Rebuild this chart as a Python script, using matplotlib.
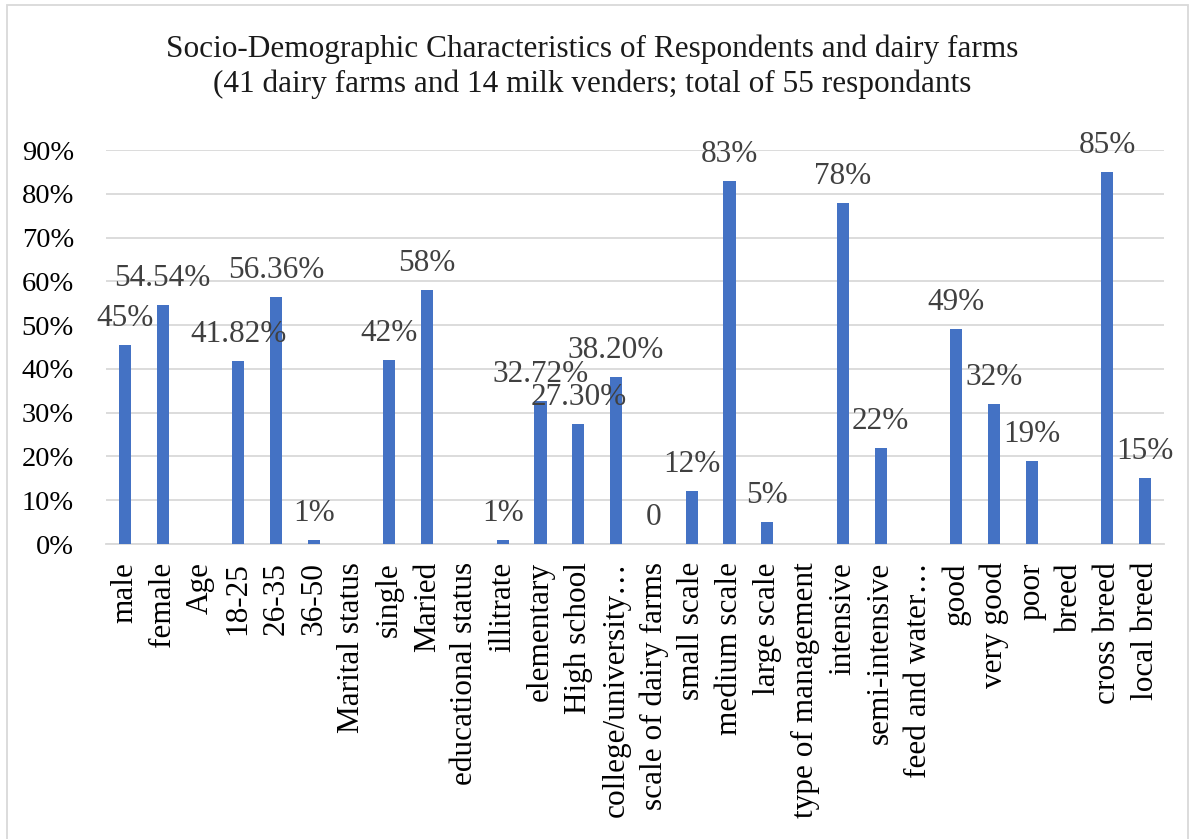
import numpy as np
import matplotlib.pyplot as plt
from matplotlib.patches import Rectangle

categories = ['male', 'female', 'Age', '18-25', '26-35', '36-50', 'Marital status',
              'single', 'Maried', 'educational status', 'illitrate', 'elementary',
              'High school', 'college/university…', 'scale of dairy farms',
              'small scale', 'medium scale', 'large scale', 'type of management',
              'intensive', 'semi-intensive', 'feed and water…', 'good', 'very good',
              'poor', 'breed', 'cross breed', 'local breed']
values = [0.4545, 0.5454, np.nan, 0.4182, 0.5636, 0.01, np.nan,
          0.42, 0.58, np.nan, 0.01, 0.3272,
          0.273, 0.382, 0.0,
          0.12, 0.83, 0.05, np.nan,
          0.78, 0.22, np.nan, 0.49, 0.32,
          0.19, np.nan, 0.85, 0.15]
labels = ['45%', '54.54%', '', '41.82%', '56.36%', '1%', '',
          '42%', '58%', '', '1%', '32.72%',
          '27.30%', '38.20%', '0',
          '12%', '83%', '5%', '',
          '78%', '22%', '', '49%', '32%',
          '19%', '', '85%', '15%']
yticks = [0, 0.1, 0.2, 0.3, 0.4, 0.5, 0.6, 0.7, 0.8, 0.9]

plt.rcParams['font.family'] = ['Liberation Serif', 'DejaVu Serif']

fig = plt.figure(figsize=(11.92, 8.39), dpi=100)
ax = fig.add_axes([106 / 1192, 1 - 544 / 839, 1058 / 1192, 394 / 839])

x = np.arange(len(categories))
bar_vals = np.nan_to_num(np.array(values, dtype=float))
ax.bar(x, bar_vals, width=0.32, color='#4472C4', zorder=3)

# data labels above bars
for xi, v, lab in zip(x, values, labels):
    if lab == '':
        continue
    ax.annotate(lab, (xi, v), xytext=(0, 12), textcoords='offset pixels',
                ha='center', va='bottom', fontsize=22.5, color='#404040', zorder=4)

ax.set_xlim(-0.5, len(categories) - 0.5)
ax.set_ylim(0, 0.9)
ax.set_yticks(yticks)
ax.set_yticklabels(['%d%%' % round(t * 100) for t in yticks], fontsize=20.5)
ax.set_xticks(x)
ax.set_xticklabels(categories, rotation=90, fontsize=22.5)
ax.tick_params(axis='both', length=0)
ax.tick_params(axis='x', pad=13)
ax.tick_params(axis='y', pad=23)
ax.grid(axis='y', color='#D9D9D9', linewidth=1.3, zorder=0)
for s in ['top', 'right', 'left']:
    ax.spines[s].set_visible(False)
ax.spines['bottom'].set_color('#D9D9D9')
ax.spines['bottom'].set_linewidth(1.3)

fig.text(0.497, 1 - 57 / 839, 'Socio-Demographic Characteristics of Respondents and dairy farms',
         ha='center', va='baseline', fontsize=22.5, color='#1a1a1a')
fig.text(0.497, 1 - 92 / 839, '(41 dairy farms and 14 milk venders; total of 55 respondants',
         ha='center', va='baseline', fontsize=22.5, color='#1a1a1a')

# chart border
fig.patches.append(Rectangle((7 / 1192, -0.01), 1181 / 1192, 1 - 5 / 839 + 0.01,
                             transform=fig.transFigure,
                             fill=False, edgecolor='#D9D9D9', linewidth=1.3))

fig.savefig('out.png', dpi=100)
